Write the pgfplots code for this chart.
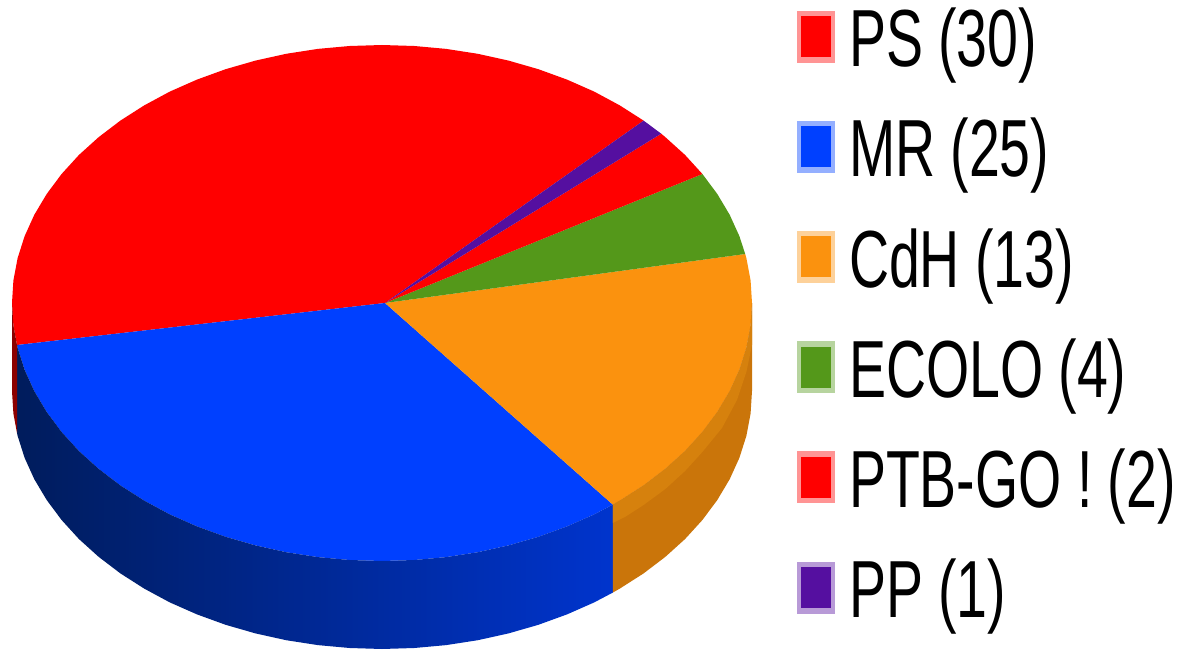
\documentclass[border=0pt]{standalone}
\usepackage{pgfplots}
\pgfplotsset{compat=1.18}
\usepackage{fontspec}
\setmainfont[FakeStretch=0.685]{Liberation Sans}
\definecolor{cPS}{RGB}{255,0,0}
\definecolor{cMR}{RGB}{0,64,255}
\definecolor{cCdH}{RGB}{251,146,14}
\definecolor{cECO}{RGB}{84,152,26}
\definecolor{cPP}{RGB}{85,15,160}
\definecolor{sBa}{RGB}{0,28,92}
\definecolor{sBb}{RGB}{0,34,120}
\definecolor{sBc}{RGB}{0,52,205}
\definecolor{sO}{RGB}{202,117,10}
\definecolor{sOb}{RGB}{214,129,13}
\definecolor{sR}{RGB}{140,0,0}
\begin{document}
\begin{tikzpicture}
\useasboundingbox (0,0) rectangle (1181pt,650pt);
\begin{axis}[
  at={(0,0)},anchor=south west,
  scale only axis,width=1181pt,height=650pt,
  xmin=0,xmax=1181,ymin=0,ymax=650,y dir=reverse,
  hide axis,clip=false,
  legend style={at={(axis cs:797,8)},anchor=north west,draw=none,fill=none,
    font=\fontsize{81}{90}\selectfont,row sep=50pt,inner sep=0pt,outer sep=0pt,
    nodes={inner sep=0pt,outer sep=0pt}},
  legend cell align=left,
  legend image code/.code={
    \path[#1,fill opacity=.42] (0pt,-24.5pt) rectangle (38pt,27.5pt);
    \path[#1] (4pt,-19pt) rectangle (34pt,22pt);
    \path (0pt,0pt) (52pt,0pt);
  },
]
\addplot[fill=cPS,draw=none] coordinates {(385,303)(17,345)(13.4,325.5)(12,303)(13.4,280.5)(17.6,258.2)(24.6,236.2)(34.3,214.8)(46.7,194)(61.6,174)(78.9,155)(98.6,137.2)(120.4,120.6)(144.2,105.4)(169.8,91.6)(197,79.6)(225.6,69.2)(255.5,60.6)(286.2,53.8)(317.8,48.9)(349.7,46)(382,45)(414.3,46)(446.2,48.9)(477.8,53.8)(508.5,60.6)(538.4,69.2)(567,79.6)(594.2,91.6)(619.8,105.4)(643.6,120.6)} --cycle;
\addlegendentry{PS (30)}
\addplot[fill=cMR,draw=none] coordinates {(385,303)(17,345)(17.6,347.8)(24.6,369.8)(34.3,391.2)(46.7,412)(61.6,432)(78.9,451)(98.6,468.8)(120.4,485.4)(144.2,500.6)(169.8,514.4)(197,526.4)(225.6,536.8)(255.5,545.4)(286.2,552.2)(317.8,557.1)(349.7,560)(382,561)(414.3,560)(446.2,557.1)(477.8,552.2)(508.5,545.4)(538.4,536.8)(567,526.4)(594.2,514.4)(612.8,504.6)} --cycle;
\addlegendentry{MR (25)}
\addplot[fill=cCdH,draw=none] coordinates {(385,303)(612.8,504.6)(619.8,500.6)(643.6,485.4)(665.4,468.8)(685.1,451)(702.4,432)(717.3,412)(729.7,391.2)(739.4,369.8)(746.4,347.8)(750.6,325.5)(752,303)(750.6,280.5)(746.4,258.2)(745.2,254)} --cycle;
\addlegendentry{CdH (13)}
\addplot[fill=cECO,draw=none] coordinates {(385,303)(745.2,254)(739.4,236.2)(729.7,214.8)(717.3,194)(702.4,174)} --cycle;
\addlegendentry{ECOLO (4)}
\addplot[fill=cPS,draw=none] coordinates {(385,303)(702.4,174)(685.1,155)(665.4,137.2)(661.2,133.7)} --cycle;
\addlegendentry{PTB-GO ! (2)}
\addplot[fill=cPP,draw=none] coordinates {(385,303)(661.2,133.7)(643.6,120.6)} --cycle;
\addlegendentry{PP (1)}
% side walls
\addplot[forget plot,draw=none,left color=sBa,middle color=sBb,right color=sBc] coordinates {(17,345)(17.6,347.8)(24.6,369.8)(34.3,391.2)(46.7,412)(61.6,432)(78.9,451)(98.6,468.8)(120.4,485.4)(144.2,500.6)(169.8,514.4)(197,526.4)(225.6,536.8)(255.5,545.4)(286.2,552.2)(317.8,557.1)(349.7,560)(382,561)(414.3,560)(446.2,557.1)(477.8,552.2)(508.5,545.4)(538.4,536.8)(567,526.4)(594.2,514.4)(612.8,504.6)(612.8,592.6)(594.2,602.4)(567,614.4)(538.4,624.8)(508.5,633.4)(477.8,640.2)(446.2,645.1)(414.3,648)(382,649)(349.7,648)(317.8,645.1)(286.2,640.2)(255.5,633.4)(225.6,624.8)(197,614.4)(169.8,602.4)(144.2,588.6)(120.4,573.4)(98.6,556.8)(78.9,539)(61.6,520)(46.7,500)(34.3,479.2)(24.6,457.8)(17.6,435.8)(17,433)} --cycle;
\addplot[forget plot,fill=sO,draw=none] coordinates {(612.8,504.6)(619.8,500.6)(643.6,485.4)(665.4,468.8)(685.1,451)(702.4,432)(717.3,412)(729.7,391.2)(739.4,369.8)(746.4,347.8)(750.6,325.5)(752,303)(752,391)(750.6,413.5)(746.4,435.8)(739.4,457.8)(729.7,479.2)(717.3,500)(702.4,520)(685.1,539)(665.4,556.8)(643.6,573.4)(619.8,588.6)(612.8,592.6)} --cycle;
\addplot[forget plot,fill=sOb,draw=none] coordinates {(612.8,504.6)(619.8,500.6)(643.6,485.4)(665.4,468.8)(685.1,451)(702.4,432)(717.3,412)(729.7,391.2)(739.4,369.8)(746.4,347.8)(750.6,325.5)(752,303)(752,345)(746.4,372)(737,400)(722,428)(702.4,452)(685.1,471)(665.4,489)(643.6,505)(625,517)(612.8,523)} --cycle;
\addplot[forget plot,fill=sR,draw=none] coordinates {(17,345)(13.4,325.5)(12,303)(12,391)(13.4,413.5)(17,433)} --cycle;
\end{axis}
\end{tikzpicture}
\end{document}
